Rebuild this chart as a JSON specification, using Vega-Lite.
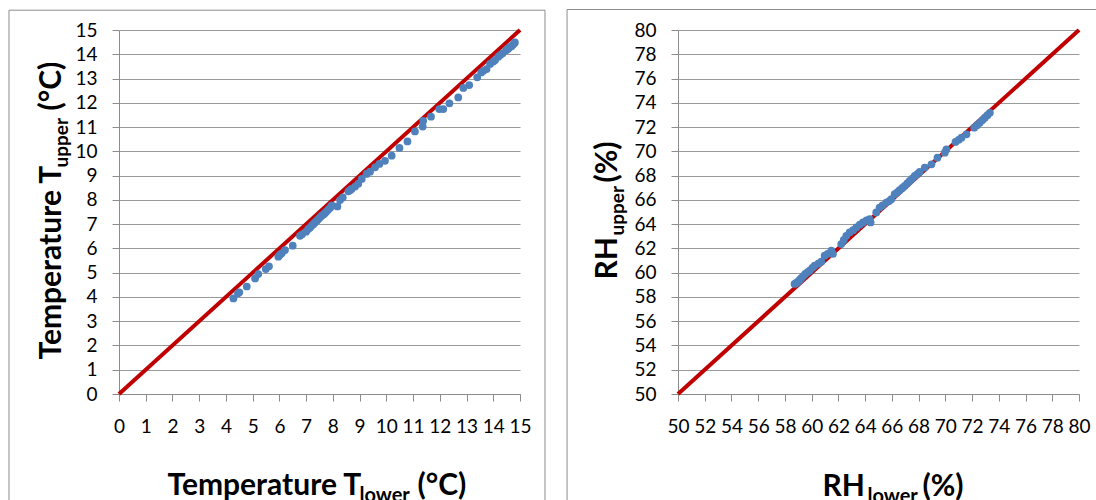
{
  "$schema": "https://vega.github.io/schema/vega-lite/v6.json",
  "padding": {"left": 8, "top": 8, "right": 0, "bottom": 0},
  "spacing": 20,
  "config": {
    "view": {"stroke": null},
    "font": "Lato",
    "axis": {
      "labelFont": "Lato",
      "labelFontSize": 19,
      "labelColor": "#000000",
      "labelFlush": false,
      "labelOverlap": false,
      "labelBound": false,
      "titleFont": "Lato",
      "titleFontWeight": "bold",
      "titleColor": "#000000",
      "titleAlign": "left",
      "titleBaseline": "alphabetic",
      "domainColor": "#8c8c8c",
      "tickColor": "#8c8c8c",
      "gridColor": "#9a9a9a",
      "domainWidth": 1,
      "tickWidth": 1,
      "gridWidth": 1,
      "tickSize": 7
    }
  },
  "datasets": {
    "temperature": [
      {"lower": 4.28, "upper": 3.94}, {"lower": 4.45, "upper": 4.15}, {"lower": 4.50, "upper": 4.19},
      {"lower": 4.78, "upper": 4.43}, {"lower": 5.09, "upper": 4.76}, {"lower": 5.21, "upper": 4.94},
      {"lower": 5.49, "upper": 5.15}, {"lower": 5.61, "upper": 5.26}, {"lower": 5.96, "upper": 5.66},
      {"lower": 6.02, "upper": 5.74}, {"lower": 6.09, "upper": 5.80}, {"lower": 6.21, "upper": 5.93},
      {"lower": 6.50, "upper": 6.11}, {"lower": 6.77, "upper": 6.52}, {"lower": 6.85, "upper": 6.58},
      {"lower": 7.00, "upper": 6.69}, {"lower": 7.08, "upper": 6.80}, {"lower": 7.15, "upper": 6.86},
      {"lower": 7.21, "upper": 6.94}, {"lower": 7.27, "upper": 7.00}, {"lower": 7.33, "upper": 7.07},
      {"lower": 7.40, "upper": 7.14}, {"lower": 7.46, "upper": 7.21}, {"lower": 7.52, "upper": 7.28},
      {"lower": 7.58, "upper": 7.35}, {"lower": 7.65, "upper": 7.40}, {"lower": 7.71, "upper": 7.46},
      {"lower": 7.77, "upper": 7.53}, {"lower": 7.83, "upper": 7.60}, {"lower": 7.90, "upper": 7.68},
      {"lower": 7.96, "upper": 7.77}, {"lower": 8.17, "upper": 7.73}, {"lower": 8.27, "upper": 7.99},
      {"lower": 8.37, "upper": 8.10}, {"lower": 8.58, "upper": 8.35}, {"lower": 8.64, "upper": 8.40},
      {"lower": 8.70, "upper": 8.45}, {"lower": 8.83, "upper": 8.55}, {"lower": 8.95, "upper": 8.66},
      {"lower": 9.08, "upper": 8.86}, {"lower": 9.26, "upper": 9.07}, {"lower": 9.39, "upper": 9.16},
      {"lower": 9.58, "upper": 9.34}, {"lower": 9.74, "upper": 9.48}, {"lower": 9.95, "upper": 9.61},
      {"lower": 10.20, "upper": 9.82}, {"lower": 10.49, "upper": 10.14}, {"lower": 10.79, "upper": 10.41},
      {"lower": 11.07, "upper": 10.82}, {"lower": 11.36, "upper": 11.02}, {"lower": 11.38, "upper": 11.26},
      {"lower": 11.67, "upper": 11.43}, {"lower": 11.98, "upper": 11.74}, {"lower": 12.13, "upper": 11.74},
      {"lower": 12.36, "upper": 11.98}, {"lower": 12.69, "upper": 12.22}, {"lower": 12.88, "upper": 12.61},
      {"lower": 13.10, "upper": 12.73}, {"lower": 13.40, "upper": 13.05}, {"lower": 13.55, "upper": 13.25},
      {"lower": 13.63, "upper": 13.32}, {"lower": 13.75, "upper": 13.39}, {"lower": 13.88, "upper": 13.60},
      {"lower": 14.00, "upper": 13.70}, {"lower": 14.07, "upper": 13.76}, {"lower": 14.19, "upper": 13.90},
      {"lower": 14.27, "upper": 13.98}, {"lower": 14.35, "upper": 14.04}, {"lower": 14.48, "upper": 14.17},
      {"lower": 14.55, "upper": 14.22}, {"lower": 14.60, "upper": 14.28}, {"lower": 14.68, "upper": 14.33},
      {"lower": 14.73, "upper": 14.39}, {"lower": 14.78, "upper": 14.45}, {"lower": 14.81, "upper": 14.49}
    ],
    "humidity": [
      {"lower": 58.72, "upper": 59.07}, {"lower": 58.85, "upper": 59.15}, {"lower": 58.97, "upper": 59.26},
      {"lower": 59.10, "upper": 59.40}, {"lower": 59.22, "upper": 59.54}, {"lower": 59.37, "upper": 59.72},
      {"lower": 59.52, "upper": 59.90}, {"lower": 59.70, "upper": 60.05}, {"lower": 59.85, "upper": 60.17},
      {"lower": 60.05, "upper": 60.40}, {"lower": 60.22, "upper": 60.58}, {"lower": 60.50, "upper": 60.75},
      {"lower": 60.72, "upper": 60.91}, {"lower": 60.97, "upper": 61.40}, {"lower": 61.20, "upper": 61.55},
      {"lower": 61.47, "upper": 61.81}, {"lower": 61.59, "upper": 61.54}, {"lower": 62.21, "upper": 62.36},
      {"lower": 62.40, "upper": 62.70}, {"lower": 62.59, "upper": 63.04}, {"lower": 62.84, "upper": 63.32},
      {"lower": 63.10, "upper": 63.50}, {"lower": 63.34, "upper": 63.73}, {"lower": 63.60, "upper": 63.95},
      {"lower": 63.84, "upper": 64.14}, {"lower": 64.10, "upper": 64.30}, {"lower": 64.33, "upper": 64.41},
      {"lower": 64.41, "upper": 64.14}, {"lower": 64.83, "upper": 64.96}, {"lower": 65.08, "upper": 65.37},
      {"lower": 65.30, "upper": 65.55}, {"lower": 65.58, "upper": 65.78}, {"lower": 65.80, "upper": 65.90},
      {"lower": 65.96, "upper": 66.06}, {"lower": 66.21, "upper": 66.47}, {"lower": 66.40, "upper": 66.62},
      {"lower": 66.58, "upper": 66.80}, {"lower": 66.78, "upper": 66.98}, {"lower": 66.96, "upper": 67.15},
      {"lower": 67.15, "upper": 67.35}, {"lower": 67.33, "upper": 67.56}, {"lower": 67.52, "upper": 67.76},
      {"lower": 67.71, "upper": 67.97}, {"lower": 67.90, "upper": 68.12}, {"lower": 68.08, "upper": 68.30},
      {"lower": 68.46, "upper": 68.66}, {"lower": 68.96, "upper": 68.93}, {"lower": 69.41, "upper": 69.48},
      {"lower": 69.96, "upper": 69.89}, {"lower": 70.08, "upper": 70.16}, {"lower": 70.76, "upper": 70.77},
      {"lower": 71.00, "upper": 70.95}, {"lower": 71.21, "upper": 71.12}, {"lower": 71.58, "upper": 71.40},
      {"lower": 72.16, "upper": 71.95}, {"lower": 72.38, "upper": 72.15}, {"lower": 72.58, "upper": 72.36},
      {"lower": 72.78, "upper": 72.58}, {"lower": 72.96, "upper": 72.77}, {"lower": 73.15, "upper": 72.98},
      {"lower": 73.33, "upper": 73.18}
    ],
    "parityT": [{"lower": 0, "upper": 0}, {"lower": 15, "upper": 15}],
    "parityRH": [{"lower": 50, "upper": 50}, {"lower": 80, "upper": 80}],
    "frame": [{}]
  },
  "hconcat": [
    {
      "width": 401,
      "height": 364,
      "resolve": {"axis": {"x": "independent", "y": "independent"}},
      "layer": [
        {
          "data": {"name": "frame"},
          "mark": {"type": "rect", "fillOpacity": 0, "stroke": "#8c8c8c", "strokeWidth": 1},
          "encoding": {
            "x": {"datum": -4.115, "type": "quantitative",
                  "scale": {"domain": [0, 15], "nice": false, "zero": false},
                  "axis": {"orient": "bottom", "labels": false, "ticks": false, "domain": false, "grid": false,
                           "title": "(°C)", "titleFontSize": 30, "titleX": 298, "titleY": 100}},
            "x2": {"datum": 15.935},
            "y": {"datum": 15.816, "type": "quantitative",
                  "scale": {"domain": [0, 15], "nice": false, "zero": false},
                  "axis": {"orient": "left", "labels": false, "ticks": false, "domain": false, "grid": false,
                           "title": "(°C)", "titleFontSize": 30, "titleX": -59, "titleY": 80}},
            "y2": {"datum": -4.9}
          }
        },
        {
          "data": {"name": "parityT"},
          "mark": {"type": "line", "color": "#C00000", "strokeWidth": 4},
          "encoding": {
            "x": {"field": "lower", "type": "quantitative",
                  "scale": {"domain": [0, 15], "nice": false, "zero": false},
                  "axis": {"orient": "bottom", "values": [0,1,2,3,4,5,6,7,8,9,10,11,12,13,14,15],
                           "grid": false, "labelPadding": 16,
                           "title": "Temperature T", "titleFontSize": 30, "titleX": 48, "titleY": 100}},
            "y": {"field": "upper", "type": "quantitative",
                  "scale": {"domain": [0, 15], "nice": false, "zero": false},
                  "axis": {"orient": "left", "values": [0,1,2,3,4,5,6,7,8,9,10,11,12,13,14,15],
                           "grid": true, "labelPadding": 15,
                           "title": "Temperature T", "titleFontSize": 30, "titleX": -59, "titleY": 329}}
          }
        },
        {
          "data": {"name": "temperature"},
          "mark": {"type": "circle", "color": "#4F81BD", "size": 60, "opacity": 1},
          "encoding": {
            "x": {"field": "lower", "type": "quantitative",
                  "scale": {"domain": [0, 15], "nice": false, "zero": false},
                  "axis": {"orient": "bottom", "labels": false, "ticks": false, "domain": false, "grid": false,
                           "title": "lower", "titleFontSize": 20, "titleX": 240, "titleY": 107}},
            "y": {"field": "upper", "type": "quantitative",
                  "scale": {"domain": [0, 15], "nice": false, "zero": false},
                  "axis": {"orient": "left", "labels": false, "ticks": false, "domain": false, "grid": false,
                           "title": "upper", "titleFontSize": 19, "titleX": -52, "titleY": 137}}
          }
        }
      ]
    },
    {
      "width": 401,
      "height": 364,
      "resolve": {"axis": {"x": "independent", "y": "independent"}},
      "layer": [
        {
          "data": {"name": "frame"},
          "mark": {"type": "rect", "fillOpacity": 0, "stroke": "#8c8c8c", "strokeWidth": 1},
          "encoding": {
            "x": {"datum": 41.7, "type": "quantitative",
                  "scale": {"domain": [50, 80], "nice": false, "zero": false},
                  "axis": {"orient": "bottom", "labels": false, "ticks": false, "domain": false, "grid": false,
                           "title": "(%)", "titleFontSize": 30, "titleX": 244, "titleY": 101}},
            "x2": {"datum": 82.5},
            "y": {"datum": 81.69, "type": "quantitative",
                  "scale": {"domain": [50, 80], "nice": false, "zero": false},
                  "axis": {"orient": "left", "labels": false, "ticks": false, "domain": false, "grid": false,
                           "title": "(%)", "titleFontSize": 30, "titleX": -62, "titleY": 152}},
            "y2": {"datum": 40.2}
          }
        },
        {
          "data": {"name": "parityRH"},
          "mark": {"type": "line", "color": "#C00000", "strokeWidth": 4},
          "encoding": {
            "x": {"field": "lower", "type": "quantitative",
                  "scale": {"domain": [50, 80], "nice": false, "zero": false},
                  "axis": {"orient": "bottom", "values": [50,52,54,56,58,60,62,64,66,68,70,72,74,76,78,80],
                           "grid": false, "labelPadding": 16,
                           "title": "RH", "titleFontSize": 30, "titleX": 144, "titleY": 101}},
            "y": {"field": "upper", "type": "quantitative",
                  "scale": {"domain": [50, 80], "nice": false, "zero": false},
                  "axis": {"orient": "left", "values": [50,52,54,56,58,60,62,64,66,68,70,72,74,76,78,80],
                           "grid": true, "labelPadding": 15,
                           "title": "RH", "titleFontSize": 30, "titleX": -62, "titleY": 249}}
          }
        },
        {
          "data": {"name": "humidity"},
          "mark": {"type": "circle", "color": "#4F81BD", "size": 60, "opacity": 1},
          "encoding": {
            "x": {"field": "lower", "type": "quantitative",
                  "scale": {"domain": [50, 80], "nice": false, "zero": false},
                  "axis": {"orient": "bottom", "labels": false, "ticks": false, "domain": false, "grid": false,
                           "title": "lower", "titleFontSize": 20, "titleX": 189, "titleY": 108}},
            "y": {"field": "upper", "type": "quantitative",
                  "scale": {"domain": [50, 80], "nice": false, "zero": false},
                  "axis": {"orient": "left", "labels": false, "ticks": false, "domain": false, "grid": false,
                           "title": "upper", "titleFontSize": 19, "titleX": -55, "titleY": 205}}
          }
        }
      ]
    }
  ]
}
